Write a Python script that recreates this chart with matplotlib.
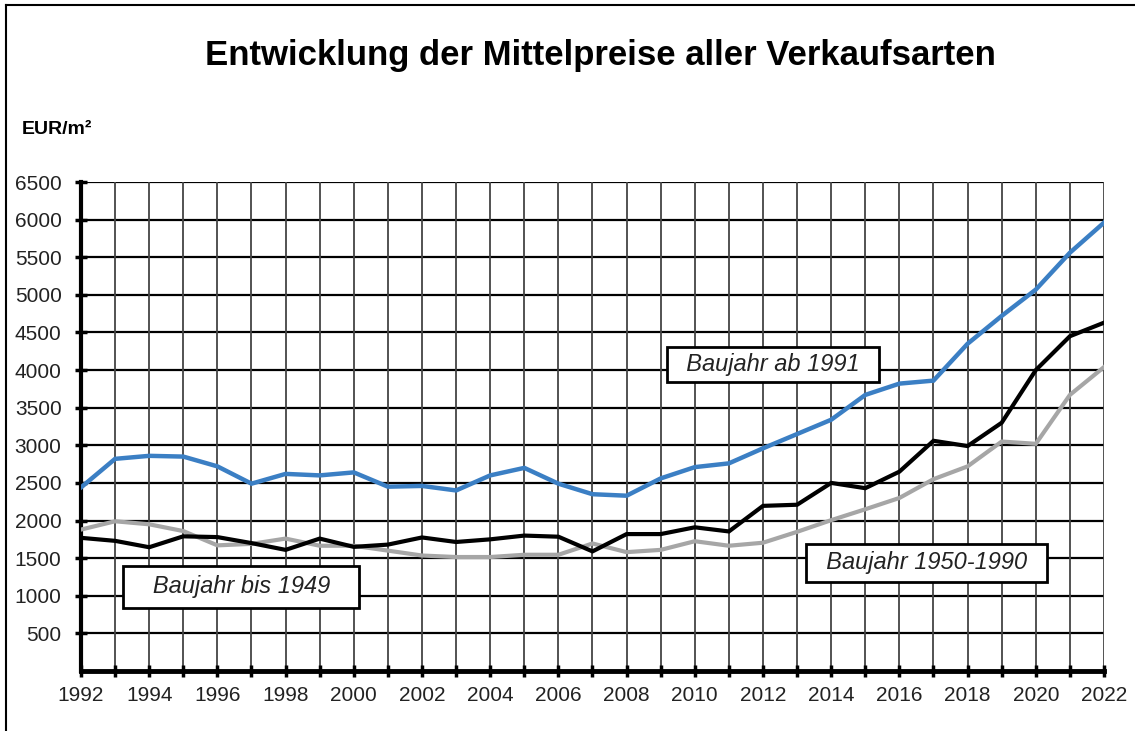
import matplotlib
matplotlib.use("Agg")
import matplotlib.pyplot as plt
from matplotlib.lines import Line2D

plt.rcParams['font.family'] = ['Liberation Sans', 'DejaVu Sans']

years = list(range(1992, 2023))

# Baujahr ab 1991 (blau)
ab_1991 = [2440, 2820, 2860, 2850, 2720, 2490, 2620, 2600, 2640, 2450, 2460,
           2400, 2600, 2700, 2490, 2350, 2330, 2560, 2710, 2760, 2960, 3150,
           3340, 3670, 3820, 3860, 4350, 4720, 5070, 5560, 5960]

# schwarz
black_line = [1770, 1730, 1645, 1790, 1780, 1700, 1610, 1760, 1650, 1680, 1775,
              1715, 1750, 1800, 1785, 1590, 1820, 1820, 1910, 1855, 2195, 2210,
              2500, 2430, 2650, 3060, 2990, 3300, 4000, 4450, 4630]

# grau
grey_line = [1880, 1990, 1950, 1860, 1670, 1690, 1760, 1665, 1665, 1600, 1535,
             1515, 1515, 1545, 1545, 1695, 1580, 1610, 1725, 1665, 1705, 1850,
             2005, 2150, 2300, 2550, 2720, 3050, 3020, 3670, 4040]

yticks = list(range(500, 7000, 500))
xticks = list(range(1992, 2023, 2))

fig = plt.figure(figsize=(11.35, 7.31), dpi=100)
ax = fig.add_axes([81 / 1135, 60 / 731, 1023 / 1135, 489 / 731])

ax.set_xlim(1992, 2022)
ax.set_ylim(0, 6500)

# grid
for y in range(500, 7000, 500):
    ax.axhline(y, color='black', lw=1.6, zorder=1)
for yr in years[1:]:
    ax.axvline(yr, color='#444444', lw=1.3, zorder=1)

ax.plot(years, grey_line, color='#a6a6a6', lw=3.0, zorder=3, solid_joinstyle='miter')
ax.plot(years, black_line, color='black', lw=3.0, zorder=4, solid_joinstyle='miter')
ax.plot(years, ab_1991, color='#3b7fc4', lw=3.2, zorder=5, solid_joinstyle='miter')

ax.set_xticks(xticks)
ax.set_xticks(years, minor=True)
ax.set_yticks(yticks)
ax.set_yticklabels([str(v) for v in yticks])
ax.tick_params(axis='both', which='both', direction='inout', length=8, width=2.5,
               color='black', labelsize=15, labelcolor='#222222')
ax.tick_params(axis='x', pad=7)
ax.tick_params(axis='y', pad=10)

for side in ['top', 'right']:
    ax.spines[side].set_visible(False)
ax.spines['left'].set_linewidth(3)
ax.spines['bottom'].set_linewidth(3.5)

ax.text(2012.3, 4070, '  Baujahr ab 1991  ', fontsize=17, style='italic', ha='center',
        va='center', zorder=6, color='#222222',
        bbox=dict(boxstyle='square,pad=0.25', facecolor='white', edgecolor='black', lw=2))
ax.text(1996.7, 1117, '   Baujahr bis 1949   ', fontsize=17, style='italic', ha='center',
        va='center', zorder=6, color='#222222',
        bbox=dict(boxstyle='square,pad=0.4', facecolor='white', edgecolor='black', lw=2))
ax.text(2016.8, 1436, '  Baujahr 1950-1990  ', fontsize=17, style='italic', ha='center',
        va='center', zorder=6, color='#222222',
        bbox=dict(boxstyle='square,pad=0.3', facecolor='white', edgecolor='black', lw=2))

fig.text(600 / 1135, 1 - 56 / 731, 'Entwicklung der Mittelpreise aller Verkaufsarten',
         fontweight='bold', fontsize=25, ha='center', va='center')
fig.text(22 / 1135, 1 - 130 / 731, 'EUR/m²', fontweight='bold', fontsize=14,
         ha='left', va='center')

# frame lines top and left
fig.add_artist(Line2D([6 / 1135, 1], [1 - 5 / 731, 1 - 5 / 731], color='black', lw=1.5))
fig.add_artist(Line2D([6 / 1135, 6 / 1135], [0, 1 - 5 / 731], color='black', lw=1.5))

fig.savefig('out.png', dpi=100, facecolor='white')
